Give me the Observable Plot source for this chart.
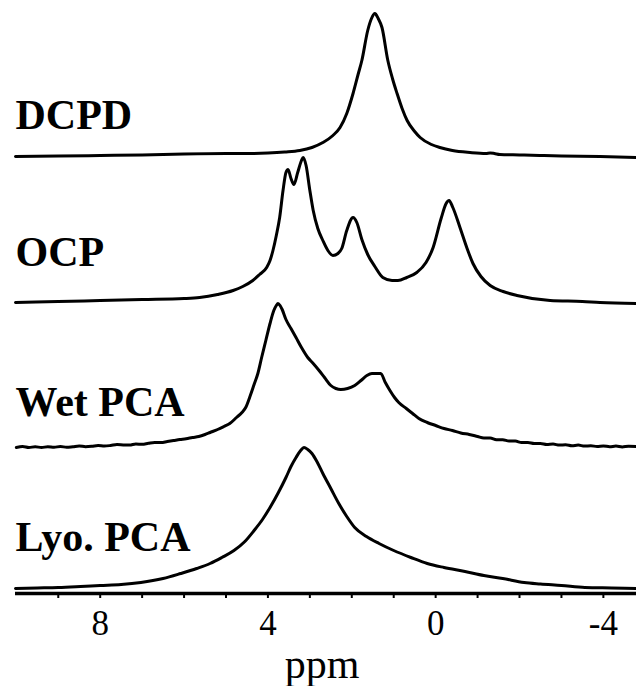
<!DOCTYPE html>
<html>
<head>
<meta charset="utf-8">
<script src="https://cdn.jsdelivr.net/npm/d3@7"></script>
<script src="https://cdn.jsdelivr.net/npm/@observablehq/plot@0.6"></script>
<style>
  html, body { margin: 0; padding: 0; background: #fff; }
  #chart { width: 636px; height: 686px; }
  #chart svg, #chart svg text { font-family: "Liberation Serif", "Times New Roman", Tinos, Times, serif !important; }
</style>
</head>
<body>
<div id="chart"></div>
<script>
// ---------- DATA ----------
const sampleNames = ["DCPD", "OCP", "Wet PCA", "Lyo. PCA"];

const ppmDCPD = [10.02, 9, 8, 7, 6, 5, 4.5, 4, 3.6, 3.24, 2.95, 2.69, 2.45, 2.28, 2.12, 1.97, 1.85, 1.76, 1.62, 1.53, 1.45, 1.37, 1.28, 1.14, 1.03, 0.92, 0.8, 0.68, 0.5, 0.37, 0.1, -0.1, -0.4, -0.82, -1.2, -1.3, -1.4, -1.53, -2, -2.48, -3, -3.92, -4.79];
const intDCPD = [0, 0.5, 1, 1.5, 2.5, 3, 3, 3.5, 4.5, 6, 9, 14, 21, 29, 43, 63, 82, 96, 126, 138, 143, 138, 129, 96, 78, 63, 48, 36, 25, 19, 12, 9, 6, 4, 3, 3.5, 3, 2, 1.5, 1, 0.5, 0, -1];

const ppmOCP = [10.02, 9, 8, 7, 6, 5.63, 5.2, 4.83, 4.6, 4.36, 4.2, 4.03, 3.95, 3.88, 3.8, 3.72, 3.64, 3.57, 3.52, 3.45, 3.38, 3.29, 3.2, 3.16, 3.09, 3.0, 2.92, 2.81, 2.69, 2.57, 2.45, 2.33, 2.24, 2.12, 1.97, 1.88, 1.76, 1.62, 1.45, 1.26, 1.04, 0.9, 0.69, 0.45, 0.23, 0.06, -0.13, -0.25, -0.32, -0.41, -0.58, -0.75, -0.89, -1.08, -1.3, -1.61, -1.94, -2.73, -3.5, -3.92, -4.79];
const intOCP = [0, 1, 2, 3, 4, 5, 8, 12, 16, 22, 28, 35, 42, 52, 67, 85, 112, 130, 133, 124, 118, 130, 142, 145, 137, 112, 92, 74, 62, 52, 47, 49, 54, 72, 85, 80, 63, 48, 36, 25, 22, 22, 25, 30, 40, 55, 84, 99, 102, 95, 75, 54, 39, 26, 17, 11, 7, 2, 1, 0, -1];

const ppmWet = [10.0, 9.85, 9.7, 9.55, 9.4, 9.25, 9.1, 8.95, 8.8, 8.65, 8.5, 8.35, 8.2, 8.05, 7.9, 7.75, 7.6, 7.45, 7.3, 7.15, 7.0, 6.85, 6.7, 6.55, 6.4, 6.25, 6.1, 5.95, 5.8, 5.65, 5.5, 5.38, 5.2, 5.05, 4.91, 4.75, 4.62, 4.53, 4.42, 4.33, 4.24, 4.15, 4.05, 3.95, 3.86, 3.8, 3.76, 3.71, 3.66, 3.57, 3.45, 3.33, 3.2, 3.05, 2.92, 2.78, 2.65, 2.5, 2.38, 2.26, 2.1, 1.93, 1.78, 1.64, 1.52, 1.45, 1.31, 1.2, 1.09, 0.98, 0.88, 0.7, 0.55, 0.4, 0.2, 0.0, -0.2, -0.4, -0.6, -0.8, -1.0, -1.15, -1.3, -1.45, -1.6, -1.75, -1.9, -2.05, -2.2, -2.35, -2.5, -2.65, -2.8, -2.95, -3.1, -3.25, -3.4, -3.55, -3.7, -3.85, -4.0, -4.15, -4.3, -4.45, -4.6, -4.79];
const intWet = [0, 1, 0, 0.8, 0, 0.8, 0.2, 1, 0.2, 0.8, 1.5, 0.8, 1.2, 2, 1.4, 2, 3, 2.6, 2.4, 3.5, 3.2, 4.2, 5, 5, 6, 7, 8, 8.8, 10, 11, 13, 15, 18, 21, 24, 30, 35, 40, 52, 63, 74, 90, 107, 124, 137, 142, 144, 142, 138, 128, 119, 110, 100, 90, 84, 77, 70, 62, 59, 58, 59, 62, 67, 72, 74, 74, 74, 65, 57, 50, 45, 39, 34, 29, 25, 22, 19, 17, 14.5, 13, 11, 9.5, 9.5, 7.8, 7.8, 6.4, 6.4, 5, 5, 4, 4, 3, 3.4, 2.4, 2.8, 1.8, 2.4, 1.4, 1.8, 1, 1.6, 0.8, 1.4, 0.6, 1.2, 1];

const ppmLyo = [10.02, 9.5, 9.0, 8.47, 8.0, 7.5, 7.03, 6.5, 6.08, 5.7, 5.38, 5.1, 4.81, 4.55, 4.33, 4.13, 3.95, 3.75, 3.57, 3.45, 3.33, 3.22, 3.14, 3.05, 2.95, 2.82, 2.69, 2.5, 2.31, 2.12, 1.93, 1.65, 1.35, 1.0, 0.59, 0.2, -0.2, -0.7, -1.15, -1.6, -2.11, -2.5, -3.0, -3.56, -4.2, -4.79];
const intLyo = [0, 0.5, 1, 2, 3, 4, 6, 10, 15, 20, 25, 31, 38, 47, 58, 69, 81, 96, 111, 122, 131, 138, 141, 139, 135, 126, 115, 100, 85, 72, 61, 52, 45, 38, 31, 25, 21, 17, 13, 10, 6, 4.5, 3, 1, 0.5, 0];

const majorTicks = [8, 4, 0, -4];
const minorTicks = [9, 8, 7, 6, 5, 4, 3, 2, 1, 0, -1, -2, -3, -4];
const axisTitle = "ppm";

// ---------- LAYOUT (stacking offsets, not data) ----------
const stackOffset = [437, 291, 146, 5];
const labelLift = [28, 37, 32, 38];

const ppmLists = [ppmDCPD, ppmOCP, ppmWet, ppmLyo];
const intLists = [intDCPD, intOCP, intWet, intLyo];

const rows = sampleNames.flatMap((name, i) =>
  ppmLists[i].map((p, j) => ({name, ppm: p, value: intLists[i][j] + stackOffset[i]}))
);
const labels = sampleNames.map((name, i) => ({name, y: stackOffset[i] + labelLift[i]}));

const serif = "Liberation Serif, Times New Roman, Times, serif";

const chart = Plot.plot({
  width: 636,
  height: 686,
  marginLeft: 15,
  marginRight: 0,
  marginTop: 0,
  marginBottom: 93,
  x: {domain: [10.02, -4.79], axis: null, label: null},
  y: {domain: [0, 593], axis: null, label: null},
  style: {fontFamily: serif, background: "white", color: "black"},
  marks: [
    Plot.line(rows, {x: "ppm", y: "value", z: "name", stroke: "black", strokeWidth: 3, curve: "monotone-x", strokeLinejoin: "round"}),
    Plot.ruleY([0], {stroke: "black", strokeWidth: 3.5}),
    Plot.axisX(minorTicks, {tickSize: 5, strokeWidth: 2, fill: "none", label: null, tickFormat: () => ""}),
    Plot.axisX(majorTicks, {tickSize: 0, tickPadding: 17, fontSize: 35, fill: "black", label: null, tickFormat: d => String(d)}),
    Plot.text([axisTitle], {text: d => d, frameAnchor: "bottom", dx: -4, dy: 84, lineAnchor: "bottom", fontSize: 42, fill: "black"}),
    Plot.text(labels, {text: "name", y: "y", frameAnchor: "left", textAnchor: "start", lineAnchor: "bottom", fontSize: 42, fontWeight: "bold", fill: "black"})
  ]
});

document.getElementById("chart").appendChild(chart);
</script>
</body>
</html>
